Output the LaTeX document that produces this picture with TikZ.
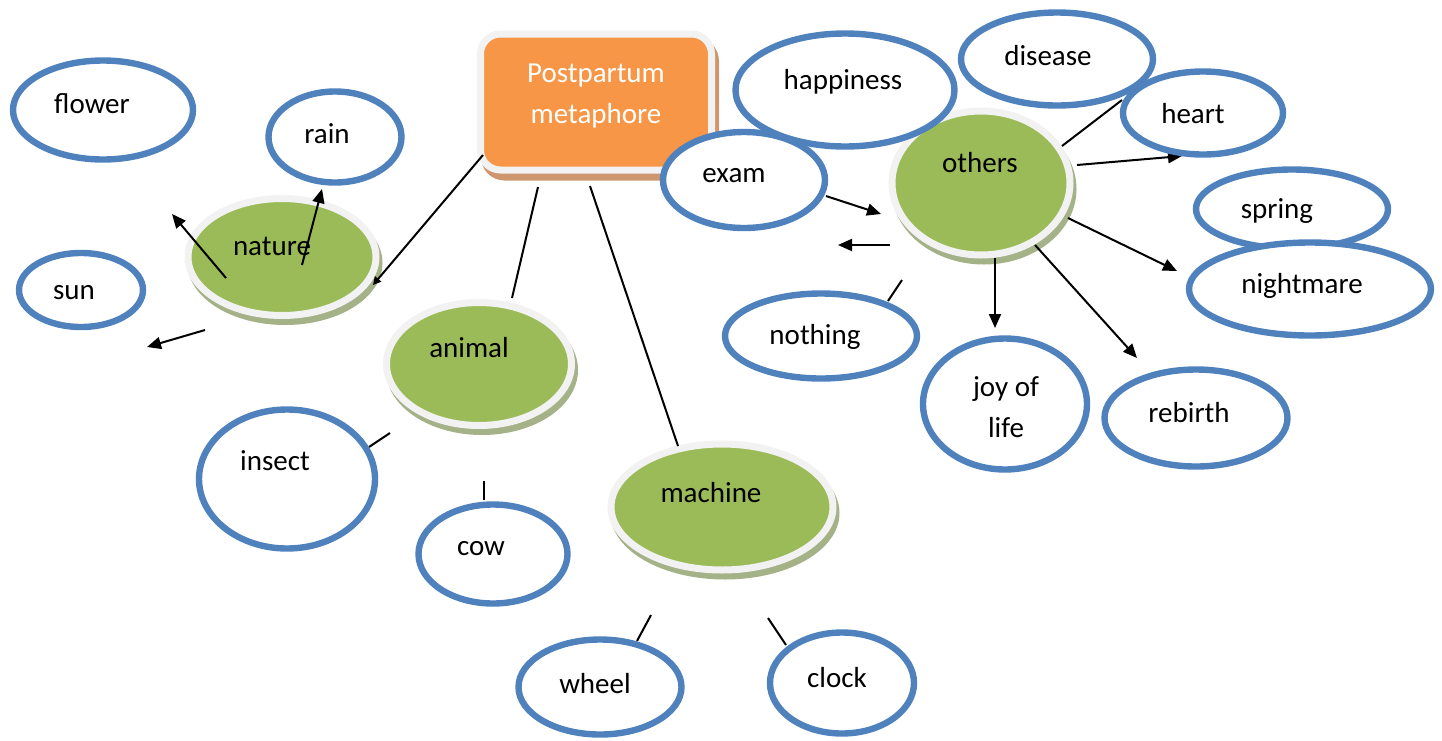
\documentclass[tikz,border=0pt]{standalone}
\usepackage{fontspec}
\setmainfont{Carlito}
\usetikzlibrary{arrows.meta,shapes.geometric,positioning}

\definecolor{bubbleblue}{RGB}{79,129,189}
\definecolor{discgreen}{RGB}{155,187,89}
\definecolor{boxorange}{RGB}{247,150,70}
\definecolor{rimgray}{RGB}{242,242,242}
\definecolor{rimgreen}{RGB}{165,177,135}
\definecolor{rimbrown}{RGB}{205,150,110}

\begin{document}
\begin{tikzpicture}[
  x=0.5pt, y=-0.5pt,
  font=\fontsize{14.5}{20.5}\selectfont,
  bubble/.style={ellipse, draw=bubbleblue, line width=3.2pt, fill=white, inner sep=0pt},
  disc/.style={ellipse, fill=discgreen, draw=rimgray, line width=3.5pt, inner sep=0pt,
    preaction={fill=rimgreen, draw=rimgreen, transform canvas={xshift=1.5pt, yshift=-3pt}}},
  word/.style={inner sep=0pt, align=center, yshift=-1pt},
  link/.style={line width=1pt},
  >={Triangle[length=7pt,width=6pt]}]
\useasboundingbox (0,0) rectangle (1442,740);

% centre box and the four groups
\node[draw=rimgray, line width=3.5pt, fill=boxorange, rounded corners=10pt, inner sep=0pt,
  minimum width=115.5pt, minimum height=68pt,
  preaction={fill=rimbrown, draw=rimbrown, transform canvas={xshift=2pt, yshift=-3.5pt}}] (root) at (596,102) {};
\node[word, text=white] (root-t) at (596,94) {Postpartum\\metaphore};
\node[disc, minimum width=94pt, minimum height=58.5pt] (nature) at (282,257) {};
\node[disc, minimum width=92.5pt, minimum height=61.5pt] (animal) at (479,364) {};
\node[disc, minimum width=111pt, minimum height=63pt] (machine) at (722,507) {};
\node[disc, minimum width=89pt, minimum height=72pt] (others) at (981,183) {};
\node[word] (nature-t) at (272,244) {nature};
\node[word] (animal-t) at (469,346) {animal};
\node[word] (machine-t) at (711,491) {machine};
\node[word] (others-t) at (980,161) {others};

% loose connector ends
\coordinate (rn1) at (483,155); \coordinate (rn2) at (373,285);
\coordinate (ra1) at (538,187); \coordinate (ra2) at (512,298);
\coordinate (rm1) at (590,186); \coordinate (rm2) at (678,446);
\coordinate (nf1) at (226,278); \coordinate (nf2) at (172,214);
\coordinate (nr1) at (302,265); \coordinate (nr2) at (322,189);
\coordinate (ns1) at (205,330); \coordinate (ns2) at (147,347);
\coordinate (ai1) at (390,433); \coordinate (ai2) at (369,447);
\coordinate (ac1) at (484,481); \coordinate (ac2) at (484,500);
\coordinate (mw1) at (651,615); \coordinate (mw2) at (637,641);
\coordinate (mc1) at (768,618); \coordinate (mc2) at (786,645);
\coordinate (oe1) at (826,196); \coordinate (oe2) at (881,214);
\coordinate (ox1) at (890,245); \coordinate (ox2) at (838,245);
\coordinate (on1) at (902,280); \coordinate (on2) at (888,301);
\coordinate (od1) at (1062,146); \coordinate (od2) at (1122,100);
\coordinate (oh1) at (1077,165); \coordinate (oh2) at (1182,156);
\coordinate (ow1) at (1068,218); \coordinate (ow2) at (1177,271);
\coordinate (oj1) at (995,258); \coordinate (oj2) at (995,328);
\coordinate (ob1) at (1035,245); \coordinate (ob2) at (1137,358);

\draw[link, -{Triangle[length=4pt,width=4pt]}] (rn1) -- (rn2);
\draw[link] (ra1) -- (ra2);
\draw[link] (rm1) -- (rm2);
\draw[link, ->] (nf1) -- (nf2);
\draw[link, ->] (nr1) -- (nr2);
\draw[link, ->] (ns1) -- (ns2);
\draw[link] (ai1) -- (ai2);
\draw[link] (ac1) -- (ac2);
\draw[link] (mw1) -- (mw2);
\draw[link] (mc1) -- (mc2);
\draw[link, ->] (oe1) -- (oe2);
\draw[link, ->] (ox1) -- (ox2);
\draw[link] (on1) -- (on2);
\draw[link] (od1) -- (od2);
\draw[link, ->] (oh1) -- (oh2);
\draw[link, ->] (ow1) -- (ow2);
\draw[link, ->] (oj1) -- (oj2);
\draw[link, ->] (ob1) -- (ob2);

% the blue bubbles
\node[bubble, minimum width=90pt, minimum height=49.5pt] (flower) at (103,110) {};
\node[bubble, minimum width=66.5pt, minimum height=45.5pt] (rain) at (335,137) {};
\node[bubble, minimum width=62pt, minimum height=37pt] (sun) at (81,290) {};
\node[bubble, minimum width=88pt, minimum height=69.5pt] (insect) at (287,479) {};
\node[bubble, minimum width=74.5pt, minimum height=49.5pt] (cow) at (493,554) {};
\node[bubble, minimum width=81.5pt, minimum height=47.5pt] (wheel) at (600,687) {};
\node[bubble, minimum width=72pt, minimum height=50.5pt] (clock) at (842,683) {};
\node[bubble, minimum width=109.5pt, minimum height=56.5pt] (happiness) at (845,90) {};
\node[bubble, minimum width=81pt, minimum height=48pt] (exam) at (744,180) {};
\node[bubble, minimum width=96pt, minimum height=46.5pt] (disease) at (1057,59) {};
\node[bubble, minimum width=80pt, minimum height=41.5pt] (heart) at (1203,113) {};
\node[bubble, minimum width=96pt, minimum height=39.5pt] (spring) at (1292,209) {};
\node[bubble, minimum width=121pt, minimum height=46.5pt] (nightmare) at (1310,289) {};
\node[bubble, minimum width=96pt, minimum height=42.5pt] (nothing) at (821,336) {};
\node[bubble, minimum width=82pt, minimum height=65.5pt] (joy) at (1005,404) {};
\node[bubble, minimum width=91.5pt, minimum height=48.5pt] (rebirth) at (1196,418) {};

\node[word] (flower-t) at (92,102) {flower};
\node[word] (rain-t) at (327,132) {rain};
\node[word] (sun-t) at (74,291) {sun};
\node[word] (insect-t) at (275,459) {insect};
\node[word] (cow-t) at (481,547) {cow};
\node[word] (wheel-t) at (595,682) {wheel};
\node[word] (clock-t) at (837,676) {clock};
\node[word] (happiness-t) at (843,80) {happiness};
\node[word] (exam-t) at (734,174) {exam};
\node[word] (disease-t) at (1048,54) {disease};
\node[word] (heart-t) at (1193,112) {heart};
\node[word] (spring-t) at (1277,209) {spring};
\node[word] (nightmare-t) at (1302,284) {nightmare};
\node[word] (nothing-t) at (815,335) {nothing};
\node[word] (joy-t) at (1006,405) {joy of\\life};
\node[word] (rebirth-t) at (1189,411) {rebirth};
\end{tikzpicture}
\end{document}
